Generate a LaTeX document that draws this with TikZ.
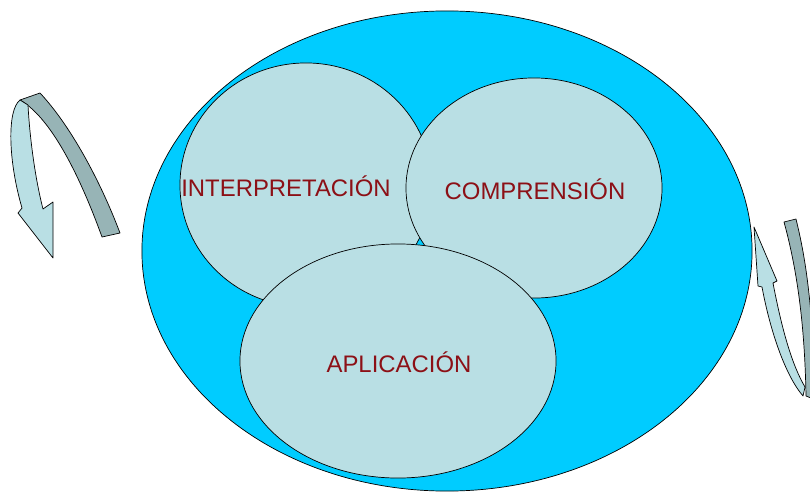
\documentclass[tikz,border=0pt]{standalone}
\usepackage{fontspec}
\setmainfont{Liberation Sans}
\usetikzlibrary{shapes.geometric}

\definecolor{ringblue}{RGB}{0,204,255}
\definecolor{paleblue}{RGB}{185,223,228}
\definecolor{greyband}{RGB}{151,180,182}
\definecolor{wine}{RGB}{140,16,22}

\begin{document}
\begin{tikzpicture}[x=0.025cm,y=-0.025cm,
    blob/.style={ellipse,draw=black,line width=0.5pt,fill=paleblue,inner sep=0pt},
    word/.style={text=wine,font=\fontsize{17}{20}\selectfont},
    band/.style={draw=black,line width=0.5pt,line join=round}]
  \useasboundingbox (0,0) rectangle (810,493);

  % outer ring
  \node[ellipse,draw=black,line width=0.5pt,fill=ringblue,inner sep=0pt,
        minimum width=15.25cm,minimum height=12cm] (ring) at (447,251) {};

  % the three circles
  \node[blob,minimum width=6.3cm,minimum height=6.1cm] (interp) at (306,185) {};
  \node[blob,minimum width=6.4cm,minimum height=5.5cm] (compr) at (534,188) {};
  \node[blob,minimum width=7.9cm,minimum height=5.85cm] (aplic) at (398,361) {};

  \node[word] (tinterp) at (286,186) {INTERPRETACIÓN};
  \node[word] (tcompr) at (535,189) {COMPRENSIÓN};
  \node[word] (taplic) at (399,362) {APLICACIÓN};

  % left turning arrow
  \fill[band,fill=greyband] (20,100) -- (40,93)
    .. controls (70,125) and (100,180) .. (120,233) -- (102,237)
    .. controls (85,190) and (55,120) .. (20,100) -- cycle;
  \fill[band,fill=paleblue] (20,100)
    .. controls (7,110) and (8,160) .. (22,208) -- (18,213) -- (53,258)
    -- (53,202) -- (43,209)
    .. controls (33,170) and (29,125) .. (28,105) -- cycle;

  % right turning arrow
  \fill[band,fill=greyband] (784,222) -- (796,219)
    .. controls (806,260) and (812,300) .. (816,400) -- (806,396)
    .. controls (805,340) and (800,280) .. (784,222) -- cycle;
  \fill[band,fill=paleblue] (754,227) -- (777,281) -- (773,283)
    .. controls (782,330) and (792,365) .. (805,387) -- (803,396)
    .. controls (785,375) and (770,330) .. (762,287) -- (758,286) -- cycle;
\end{tikzpicture}
\end{document}
